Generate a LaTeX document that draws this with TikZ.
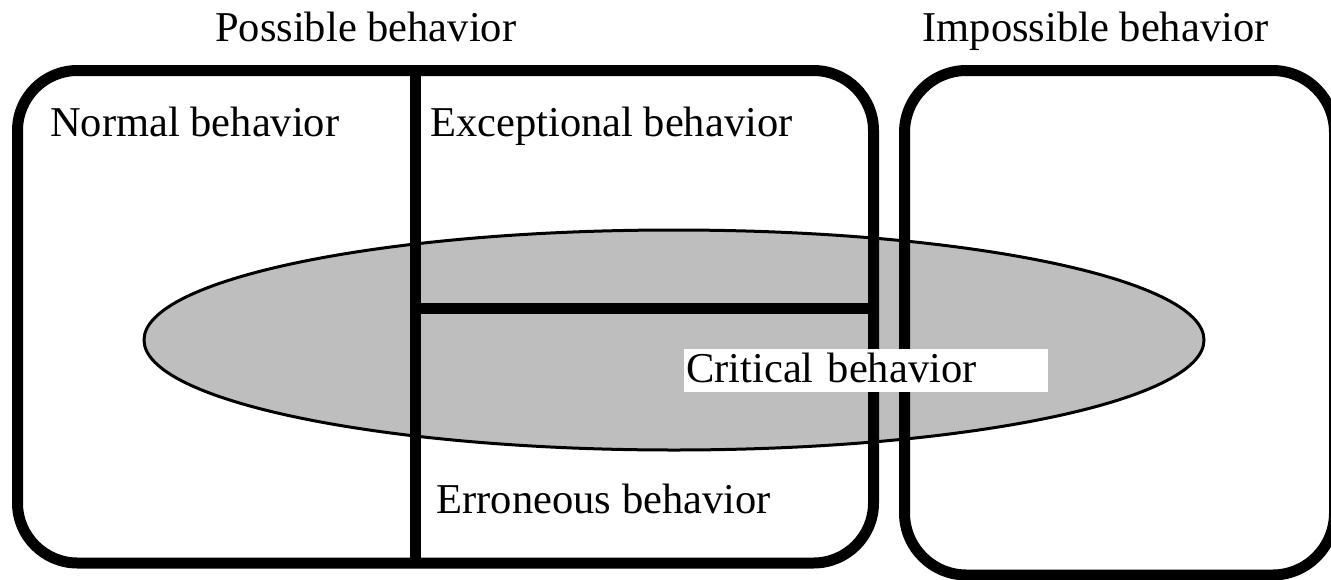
\documentclass[tikz,border=0pt]{standalone}
\usepackage{fontspec}
\setmainfont{Liberation Serif}
\definecolor{critgray}{RGB}{190,190,190}
\begin{document}
\begin{tikzpicture}[x=1pt,y=-1pt,
  frame/.style={draw=black,line width=11pt},
  divider/.style={draw=black,line width=11pt,line cap=butt},
  label/.style={anchor=base west,inner sep=0pt,font=\fontsize{42.5}{50}\selectfont},
  critbox/.style={anchor=north west,fill=white,inner xsep=2pt,inner ysep=0pt,
    text width=360pt,align=left,text height=33pt,text depth=10pt,
    font=\fontsize{42.5}{50}\selectfont}]
  \useasboundingbox (0,0) rectangle (1331,579);
  % critical region, behind everything else
  \draw[line width=3pt,fill=critgray] (674,340) ellipse [x radius=530,y radius=110];
  % possible and impossible behaviour frames
  \draw[frame,rounded corners=60pt] (17.5,70.5) rectangle (873.5,563);
  \draw[frame,rounded corners=62pt] (904.5,70.5) rectangle (1334.5,575);
  % split of the possible behaviour
  \coordinate (vtop) at (415,70.5);
  \coordinate (vbot) at (415,563);
  \coordinate (hl) at (415,308.5);
  \coordinate (hr) at (879,308.5);
  \draw[divider] (vtop) -- (vbot);
  \draw[divider] (hl) -- (hr);
  % labels
  \node[label] (possible) at (215,41.7) {Possible behavior};
  \node[label] (impossible) at (922.5,41.7) {Impossible behavior};
  \node[label] (normal) at (50,136.7) {Normal behavior};
  \node[label] (exceptional) at (430,136.7) {Exceptional behavior};
  \node[label] (erroneous) at (436.5,513) {Erroneous behavior};
  \node[critbox] (critical) at (684,349) {Critical behavior};
\end{tikzpicture}
\end{document}
